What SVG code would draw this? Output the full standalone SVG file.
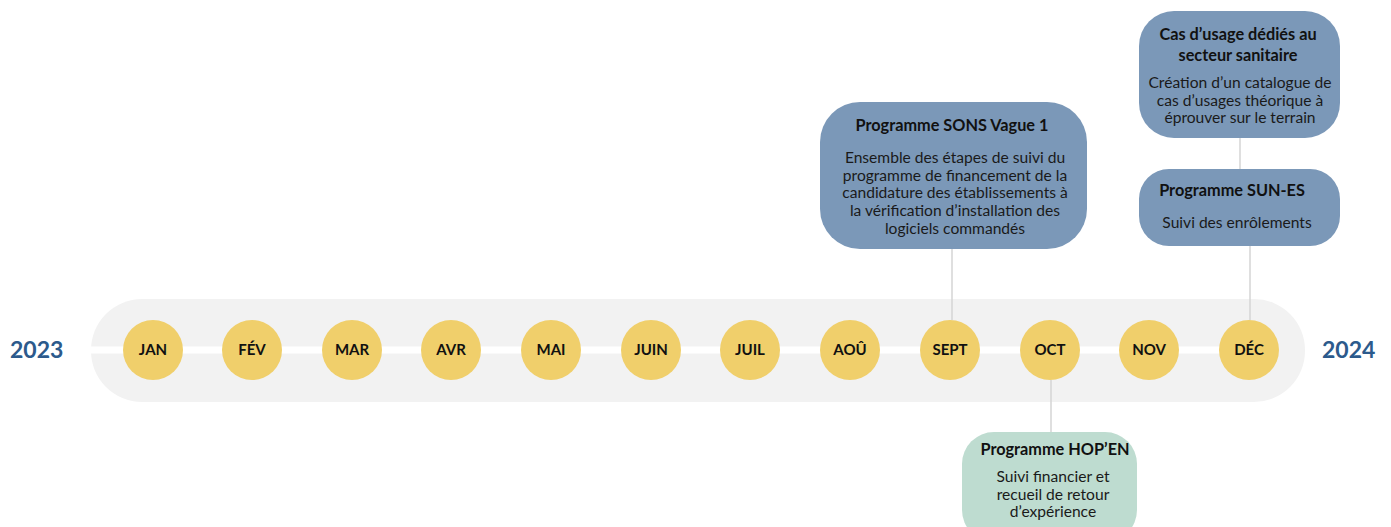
<svg xmlns="http://www.w3.org/2000/svg" width="1391" height="527" viewBox="0 0 1391 527">
<style>
.band{fill:#f2f2f2}
.track{stroke:#ffffff;stroke-width:7}
.month circle{fill:#f0cf6b}
.month text{font-family:"Lato","Liberation Sans",sans-serif;font-size:15px;font-weight:700;fill:#111;text-anchor:middle}
.year{font-family:"Lato","Liberation Sans",sans-serif;font-size:23px;font-weight:700;fill:#2c5a8c}
.blue{fill:#7b98b8}
.green{fill:#bedcd0}
.title{font-family:"Lato","Liberation Sans",sans-serif;font-size:16.3px;font-weight:700;fill:#111;text-anchor:middle}
.body{font-family:"Lato","Liberation Sans",sans-serif;font-size:15.6px;fill:#1a1a1a;text-anchor:middle}
.conn line{stroke:#d4d4d4;stroke-width:1.5}
</style>
<rect class="band" x="91" y="299" width="1214" height="103" rx="51"/>
<line class="track" x1="91" y1="350" x2="1250" y2="350"/>
<text class="year" x="10" y="358">2023</text>
<text class="year" x="1322" y="358">2024</text>
<g id="connectors" class="conn">
<line x1="952" y1="249" x2="952" y2="320"/>
<line x1="1240" y1="138" x2="1240" y2="169"/>
<line x1="1250" y1="246" x2="1250" y2="320"/>
<line x1="1051" y1="380" x2="1051" y2="432"/>
</g>
<g id="m-jan" class="month"><circle cx="153" cy="350" r="30"/><text x="153" y="355">JAN</text></g>
<g id="m-fev" class="month"><circle cx="252" cy="350" r="30"/><text x="252" y="355">FÉV</text></g>
<g id="m-mar" class="month"><circle cx="352" cy="350" r="30"/><text x="352" y="355">MAR</text></g>
<g id="m-avr" class="month"><circle cx="451" cy="350" r="30"/><text x="451" y="355">AVR</text></g>
<g id="m-mai" class="month"><circle cx="551" cy="350" r="30"/><text x="551" y="355">MAI</text></g>
<g id="m-juin" class="month"><circle cx="651" cy="350" r="30"/><text x="651" y="355">JUIN</text></g>
<g id="m-juil" class="month"><circle cx="750" cy="350" r="30"/><text x="750" y="355">JUIL</text></g>
<g id="m-aou" class="month"><circle cx="850" cy="350" r="30"/><text x="850" y="355">AOÛ</text></g>
<g id="m-sept" class="month"><circle cx="950" cy="350" r="30"/><text x="950" y="355">SEPT</text></g>
<g id="m-oct" class="month"><circle cx="1050" cy="350" r="30"/><text x="1050" y="355">OCT</text></g>
<g id="m-nov" class="month"><circle cx="1149" cy="350" r="30"/><text x="1149" y="355">NOV</text></g>
<g id="m-dec" class="month"><circle cx="1249" cy="350" r="30"/><text x="1249" y="355">DÉC</text></g>
<g id="sons">
<rect class="blue" x="820" y="102" width="267" height="147" rx="40"/>
<text class="title" x="952" y="131">Programme SONS Vague 1</text>
<text class="body" x="955" y="163">Ensemble des étapes de suivi du</text>
<text class="body" x="955" y="181">programme de financement de la</text>
<text class="body" x="955" y="198">candidature des établissements à</text>
<text class="body" x="955" y="216">la vérification d’installation des</text>
<text class="body" x="955" y="234">logiciels commandés</text>
</g>
<g id="casusage">
<rect class="blue" x="1139" y="11" width="201" height="127" rx="35"/>
<text class="title" x="1238" y="40">Cas d’usage dédiés au</text>
<text class="title" x="1238" y="61">secteur sanitaire</text>
<text class="body" x="1240" y="88">Création d’un catalogue de</text>
<text class="body" x="1240" y="106">cas d’usages théorique à</text>
<text class="body" x="1240" y="123">éprouver sur le terrain</text>
</g>
<g id="sunes">
<rect class="blue" x="1139" y="169" width="201" height="77" rx="30"/>
<text class="title" x="1232" y="196">Programme SUN-ES</text>
<text class="body" x="1237" y="228">Suivi des enrôlements</text>
</g>
<g id="hopen">
<rect class="green" x="962" y="432" width="175" height="110" rx="32"/>
<text class="title" x="1055" y="455">Programme HOP’EN</text>
<text class="body" x="1053" y="482">Suivi financier et</text>
<text class="body" x="1053" y="500">recueil de retour</text>
<text class="body" x="1053" y="517">d’expérience</text>
</g>
</svg>
